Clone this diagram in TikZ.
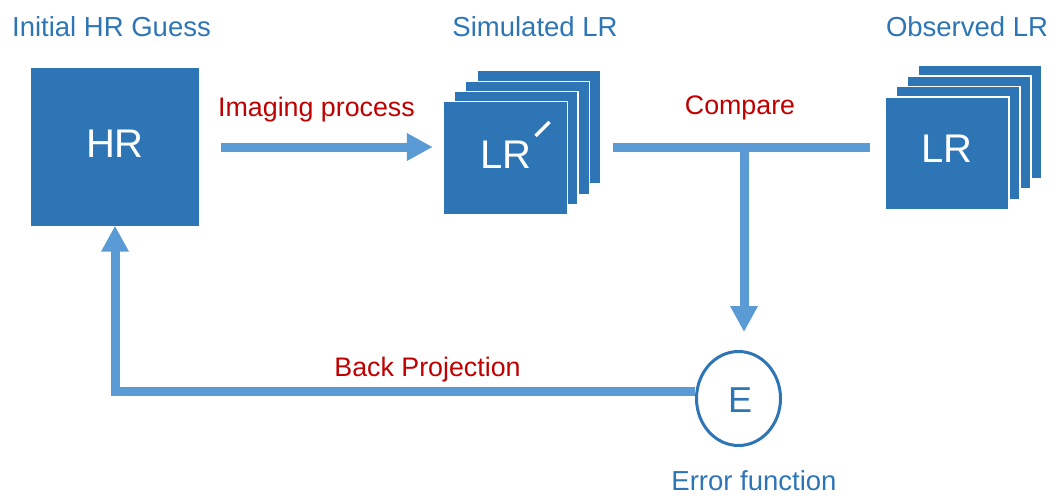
\documentclass[tikz,border=0pt]{standalone}
\usepackage{fontspec}
\setmainfont{Liberation Sans}
\usetikzlibrary{arrows.meta,shapes.geometric}
\definecolor{boxblue}{RGB}{46,117,182}
\definecolor{arrowblue}{RGB}{91,155,213}
\definecolor{darkred}{RGB}{192,0,0}
\tikzset{
  sq/.style={fill=boxblue, draw=white, line width=1.4pt, inner sep=0pt},
  title/.style={text=boxblue, anchor=base, inner sep=0pt, font=\fontsize{27.5}{31}\selectfont},
  redlab/.style={text=darkred, anchor=base, inner sep=0pt, font=\fontsize{26.8}{30}\selectfont},
  big/.style={text=white, inner sep=0pt, font=\fontsize{40}{44}\selectfont},
  flow/.style={draw=arrowblue, line width=9pt, -{Triangle[length=26pt,width=26pt]}},
  flowline/.style={draw=arrowblue, line width=9pt}
}
\begin{document}
\begin{tikzpicture}[x=1pt,y=-1pt]
\useasboundingbox (0,0) rectangle (1056,495);
% HR box
\node[sq, draw=none, minimum width=168pt, minimum height=158pt] (hr) at (115,147) {};
\node[big] (hrt) at (115,144) {HR};
% simulated LR stack
\node[sq, minimum width=124pt, minimum height=113pt] (sim4) at (539,127) {};
\node[sq, minimum width=124pt, minimum height=113pt] (sim3) at (527.5,138) {};
\node[sq, minimum width=124pt, minimum height=113pt] (sim2) at (516,148) {};
\node[sq, minimum width=124pt, minimum height=113pt] (sim1) at (505.5,158) {};
\node[big] (simt) at (506,155) {LR};
\draw[white, line width=3.2pt] ([xshift=30pt,yshift=22pt]sim1.center) -- ([xshift=44pt,yshift=36pt]sim1.center);
% observed LR stack
\node[sq, minimum width=124pt, minimum height=113pt] (obs4) at (980,122) {};
\node[sq, minimum width=124pt, minimum height=113pt] (obs3) at (969,132.5) {};
\node[sq, minimum width=124pt, minimum height=113pt] (obs2) at (958,143) {};
\node[sq, minimum width=124pt, minimum height=113pt] (obs1) at (947,153.5) {};
\node[big] (obst) at (947,149) {LR};
% error function
\node[ellipse, draw=boxblue, line width=3pt, minimum width=84pt, minimum height=94pt, inner sep=0pt] (err) at (738.5,398.5) {};
\node[text=boxblue, inner sep=0pt, font=\fontsize{36}{40}\selectfont] (errt) at (740,400) {E};
% titles
\node[title] (t1) at (111.5,37) {Initial HR Guess};
\node[title] (t2) at (535,37) {Simulated LR};
\node[title] (t3) at (967,37) {Observed LR};
\node[title] (t4) at (754,490) {Error function};
% red labels
\node[redlab] (l1) at (316.5,116) {Imaging process};
\node[redlab] (l2) at (740,114) {Compare};
\node[redlab] (l3) at (427.5,376) {Back Projection};
% coordinates
\coordinate (cmpL) at (613,147);
\coordinate (cmpR) at (870,147);
\coordinate (cmpT) at (744,147);
\coordinate (bpS) at (695,391.5);
% connectors
\draw[flow, shorten <=21pt, shorten >=10pt] (hr.east) -- (hr.east -| sim1.west);
\draw[flowline] (cmpL) -- (cmpR);
\draw[flow, shorten >=18pt] (cmpT) -- (cmpT |- err.north);
\draw[flow, shorten >=-1pt] (bpS) -| (hr.south);
\end{tikzpicture}
\end{document}
